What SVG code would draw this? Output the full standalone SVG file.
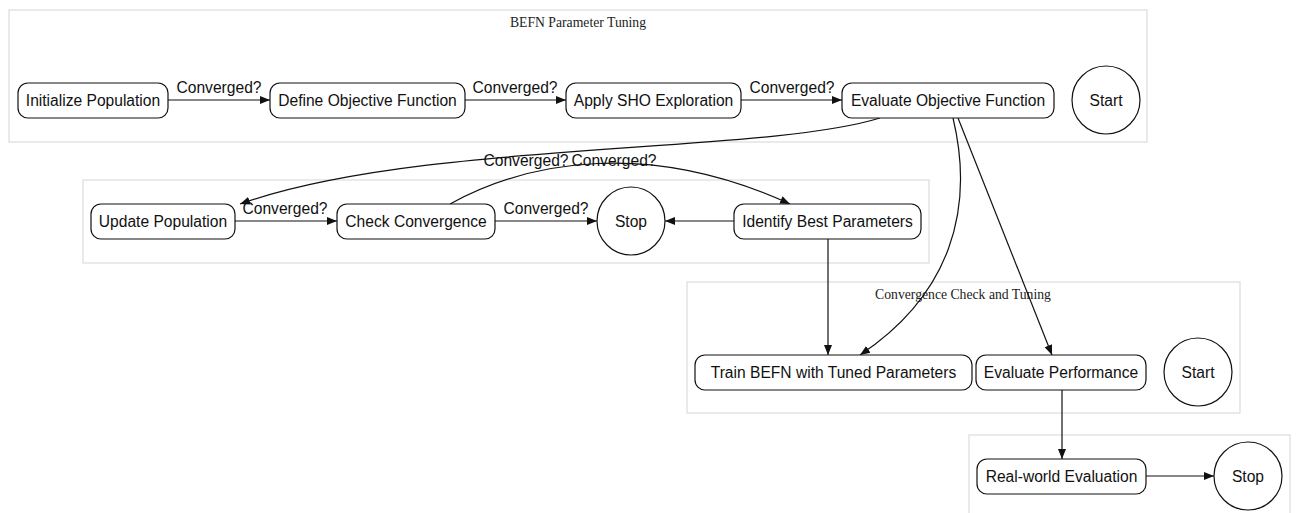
<svg xmlns="http://www.w3.org/2000/svg" width="1297" height="513" viewBox="0 0 1297 513">
<style>
.cl{fill:#fff;stroke:#dcdcdc;stroke-width:1.2}
.ct{font-family:"Liberation Serif",serif;font-size:13.7px;fill:#222;text-anchor:middle}
.nd{fill:#fff;stroke:#111;stroke-width:1.2}
.t{font-family:"Liberation Sans",Arial,sans-serif;font-size:15.6px;fill:#111;text-anchor:middle;dominant-baseline:central}
.e{fill:none;stroke:#111;stroke-width:1.2}
.lb{font-family:"Liberation Sans",Arial,sans-serif;font-size:15.6px;fill:#111;text-anchor:middle}
</style>
<defs>
<marker id="ah" viewBox="0 0 10 10" refX="10" refY="5" markerWidth="10" markerHeight="10" markerUnits="userSpaceOnUse" orient="auto">
<path d="M0,1 L10,5 L0,9 z" fill="#111"/>
</marker>
</defs>
<rect width="1297" height="513" fill="#fff"/>
<g id="clusters">
<rect class="cl" x="9" y="10" width="1138" height="132"/>
<text class="ct" x="578" y="27">BEFN Parameter Tuning</text>
<rect class="cl" x="83" y="180" width="846" height="83"/>
<rect class="cl" x="687" y="282" width="553" height="131"/>
<text class="ct" x="963" y="299">Convergence Check and Tuning</text>
<rect class="cl" x="969" y="435" width="321" height="85"/>
</g>
<g id="connectors">
<path class="e" d="M168,100 L270,100" marker-end="url(#ah)"/>
<text class="lb" x="219" y="93">Converged?</text>
<path class="e" d="M465,100 L566,100" marker-end="url(#ah)"/>
<text class="lb" x="515" y="93">Converged?</text>
<path class="e" d="M741,100 L842,100" marker-end="url(#ah)"/>
<text class="lb" x="792" y="93">Converged?</text>
<path class="e" d="M880,118 C760,155 420,140 240,204" marker-end="url(#ah)"/>
<text class="lb" x="526" y="166">Converged?</text>
<path class="e" d="M450,204 C530,160 650,140 790,204" marker-end="url(#ah)"/>
<text class="lb" x="614" y="166">Converged?</text>
<path class="e" d="M235,221 L337,221" marker-end="url(#ah)"/>
<text class="lb" x="285" y="214">Converged?</text>
<path class="e" d="M495,221 L597,221" marker-end="url(#ah)"/>
<text class="lb" x="546" y="214">Converged?</text>
<path class="e" d="M734,221 L665,221" marker-end="url(#ah)"/>
<path class="e" d="M828,239 L828,355" marker-end="url(#ah)"/>
<path class="e" d="M953,118 C975,210 950,295 860,355" marker-end="url(#ah)"/>
<path class="e" d="M958,118 L1052,355" marker-end="url(#ah)"/>
<path class="e" d="M1062,390 L1062,459" marker-end="url(#ah)"/>
<path class="e" d="M1146,476 L1214,476" marker-end="url(#ah)"/>
</g>
<g id="n_init"><rect class="nd" x="18" y="83" width="150" height="35" rx="10"/><text class="t" x="93" y="100">Initialize Population</text></g>
<g id="n_define"><rect class="nd" x="270" y="83" width="195" height="35" rx="10"/><text class="t" x="367.5" y="100">Define Objective Function</text></g>
<g id="n_apply"><rect class="nd" x="566" y="83" width="175" height="35" rx="10"/><text class="t" x="653.5" y="100">Apply SHO Exploration</text></g>
<g id="n_evalobj"><rect class="nd" x="842" y="83" width="212" height="35" rx="10"/><text class="t" x="948" y="100">Evaluate Objective Function</text></g>
<g id="n_start1"><circle class="nd" cx="1106" cy="100" r="34"/><text class="t" x="1106" y="100">Start</text></g>
<g id="n_update"><rect class="nd" x="91" y="204" width="144" height="35" rx="10"/><text class="t" x="163" y="221">Update Population</text></g>
<g id="n_check"><rect class="nd" x="337" y="204" width="158" height="35" rx="10"/><text class="t" x="416" y="221">Check Convergence</text></g>
<g id="n_stop1"><circle class="nd" cx="631" cy="221" r="34"/><text class="t" x="631" y="221">Stop</text></g>
<g id="n_identify"><rect class="nd" x="734" y="204" width="187" height="35" rx="10"/><text class="t" x="827.5" y="221">Identify Best Parameters</text></g>
<g id="n_train"><rect class="nd" x="695" y="355" width="277" height="35" rx="10"/><text class="t" x="833.5" y="372">Train BEFN with Tuned Parameters</text></g>
<g id="n_evalperf"><rect class="nd" x="976" y="355" width="170" height="35" rx="10"/><text class="t" x="1061" y="372">Evaluate Performance</text></g>
<g id="n_start2"><circle class="nd" cx="1198" cy="372" r="34"/><text class="t" x="1198" y="372">Start</text></g>
<g id="n_real"><rect class="nd" x="977" y="459" width="169" height="35" rx="10"/><text class="t" x="1061.5" y="476">Real-world Evaluation</text></g>
<g id="n_stop2"><circle class="nd" cx="1248" cy="476" r="34"/><text class="t" x="1248" y="476">Stop</text></g>
</svg>
